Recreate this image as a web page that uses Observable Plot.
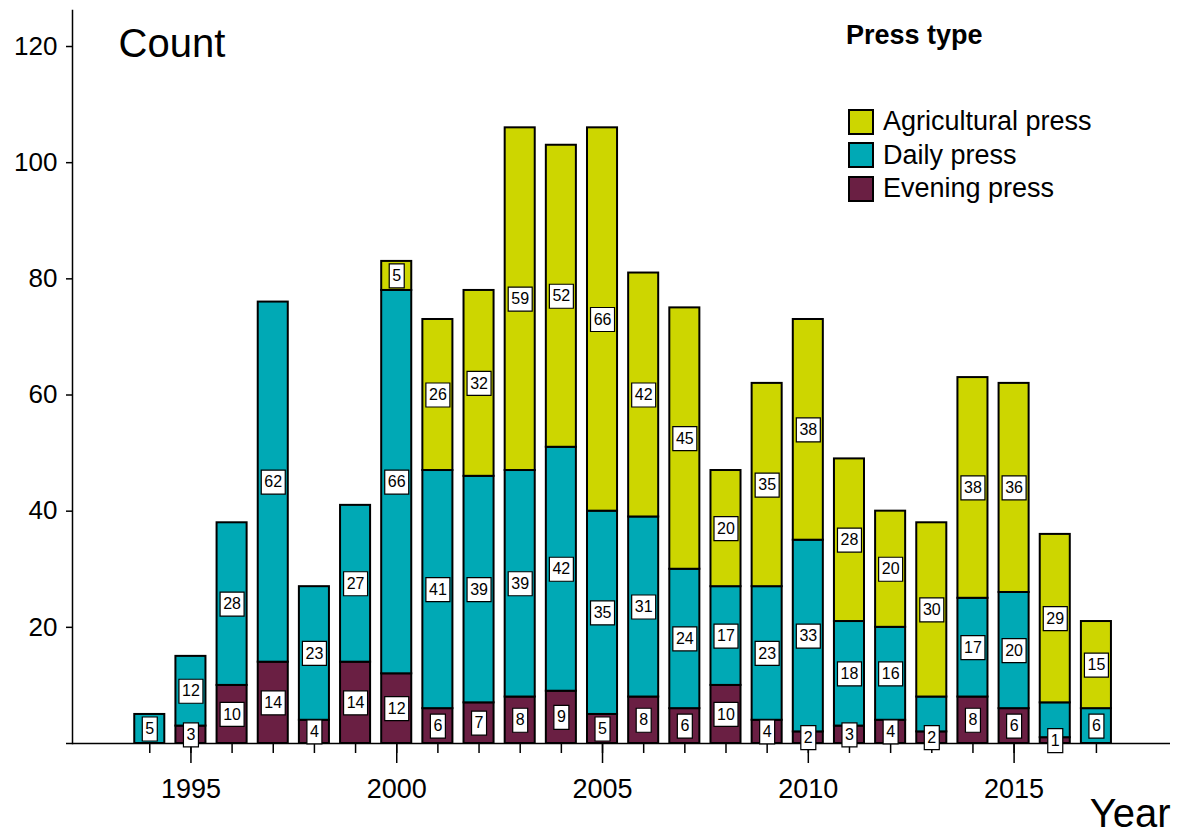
<!DOCTYPE html>
<html>
<head>
<meta charset="utf-8">
<script src="https://cdn.jsdelivr.net/npm/d3@7"></script>
<script src="https://cdn.jsdelivr.net/npm/@observablehq/plot@0.6"></script>
<style>
  html, body { margin: 0; padding: 0; background: white; }
  #wrap { position: relative; width: 1178px; height: 838px; font-family: "Liberation Sans", Arial, sans-serif; }
  #legend { position: absolute; left: 846px; top: 20px; color: black; }
  #legend .title { font-weight: bold; font-size: 27px; line-height: 30px; }
  #legend .rows { margin-top: 55px; }
  #legend .row { display: flex; align-items: center; height: 33.5px; font-size: 27px; }
  #legend .sw { width: 22px; height: 22px; border: 2px solid black; margin-left: 2px; margin-right: 9px; box-sizing: content-box; }
</style>
</head>
<body>
<div id="wrap"></div>
<script>
// ---- data ----
const years = [1994, 1995, 1996, 1997, 1998, 1999, 2000, 2001, 2002, 2003, 2004, 2005,
               2006, 2007, 2008, 2009, 2010, 2011, 2012, 2013, 2014, 2015, 2016, 2017];
const evening = [0, 3, 10, 14, 4, 14, 12, 6, 7, 8, 9, 5, 8, 6, 10, 4, 2, 3, 4, 2, 8, 6, 1, 0];
const daily   = [5, 12, 28, 62, 23, 27, 66, 41, 39, 39, 42, 35, 31, 24, 17, 23, 33, 18, 16, 6, 17, 20, 6, 6];
const agri    = [0, 0, 0, 0, 0, 0, 5, 26, 32, 59, 52, 66, 42, 45, 20, 35, 38, 28, 20, 30, 38, 36, 29, 15];
const stackOrder = ["Evening press", "Daily press", "Agricultural press"];
const legendOrder = ["Agricultural press", "Daily press", "Evening press"];
const colors = {"Agricultural press": "#cdd600", "Daily press": "#00a9b5", "Evening press": "#6a1f43"};
const unlabeled = [{year: 2013, type: "Daily press"}, {year: 2016, type: "Daily press"}];
const yTicks = [0, 20, 40, 60, 80, 100, 120];
const majorYears = [1995, 2000, 2005, 2010, 2015];

// ---- table ----
const series = {"Evening press": evening, "Daily press": daily, "Agricultural press": agri};
const rows = [];
years.forEach((yr, i) => {
  for (const t of stackOrder) {
    const v = series[t][i];
    if (v > 0) rows.push({year: yr, type: t, value: v});
  }
});
const shown = d => !unlabeled.some(u => u.year === d.year && u.type === d.type);

function boxSymbol(w, h) {
  return { draw(context) { context.rect(-w / 2, -h / 2, w, h); } };
}
const stackOpts = {x: "year", y: "value", z: "type", order: stackOrder};

const chart = Plot.plot({
  width: 1178,
  height: 838,
  marginLeft: 72,
  marginRight: 8,
  marginTop: 10,
  marginBottom: 95,
  style: {fontFamily: "Liberation Sans, Arial, sans-serif", background: "white", color: "black"},
  x: {type: "band", domain: years, range: [128.7, 1116.5], paddingInner: 0.27, paddingOuter: 0.135, round: false},
  y: {domain: [0, 126.2]},
  color: {domain: legendOrder, range: legendOrder.map(t => colors[t])},
  marks: [
    Plot.barY(rows, {x: "year", y: "value", fill: "type", z: "type", order: stackOrder, stroke: "black", strokeWidth: 2}),
    Plot.ruleY([0], {strokeWidth: 1.5}),
    Plot.frame({anchor: "left", strokeWidth: 1.5}),
    Plot.axisY({ticks: yTicks, tickSize: 6, tickPadding: 9, fontSize: 26, strokeWidth: 1.5,
                tickFormat: d => d === 0 ? "" : String(d), label: null}),
    Plot.axisX({ticks: years, tickSize: 10, tickFormat: () => "", strokeWidth: 1.5, label: null}),
    Plot.axisX({ticks: majorYears, tickSize: 20, tickPadding: 15, fontSize: 27, strokeWidth: 1.5,
                tickFormat: d => String(d), label: null}),
    Plot.dot(rows, Plot.filter(d => shown(d) && String(d.value).length === 1,
      Plot.stackY({...stackOpts, symbol: boxSymbol(15, 24), fill: "white", stroke: "black", strokeWidth: 1.2}))),
    Plot.dot(rows, Plot.filter(d => shown(d) && String(d.value).length === 2,
      Plot.stackY({...stackOpts, symbol: boxSymbol(24, 24), fill: "white", stroke: "black", strokeWidth: 1.2}))),
    Plot.text(rows, Plot.filter(shown,
      Plot.stackY({...stackOpts, text: "value", fontSize: 16, fill: "black"}))),
    Plot.text(["Count"], {frameAnchor: "top-left", dx: 46, dy: 18, text: d => d, fontSize: 40,
                          textAnchor: "start", lineAnchor: "top"}),
    Plot.text(["Year"], {frameAnchor: "bottom-right", dx: 0, dy: 55, text: d => d, fontSize: 40,
                         textAnchor: "end", lineAnchor: "top"})
  ]
});

const wrap = document.getElementById("wrap");
wrap.appendChild(chart);

// ---- legend ----
const legend = document.createElement("div");
legend.id = "legend";
const title = document.createElement("div");
title.className = "title";
title.textContent = "Press type";
legend.appendChild(title);
const rowsDiv = document.createElement("div");
rowsDiv.className = "rows";
for (const t of legendOrder) {
  const r = document.createElement("div");
  r.className = "row";
  const sw = document.createElement("div");
  sw.className = "sw";
  sw.style.background = colors[t];
  const lab = document.createElement("span");
  lab.textContent = t;
  r.appendChild(sw);
  r.appendChild(lab);
  rowsDiv.appendChild(r);
}
legend.appendChild(rowsDiv);
wrap.appendChild(legend);
</script>
</body>
</html>
